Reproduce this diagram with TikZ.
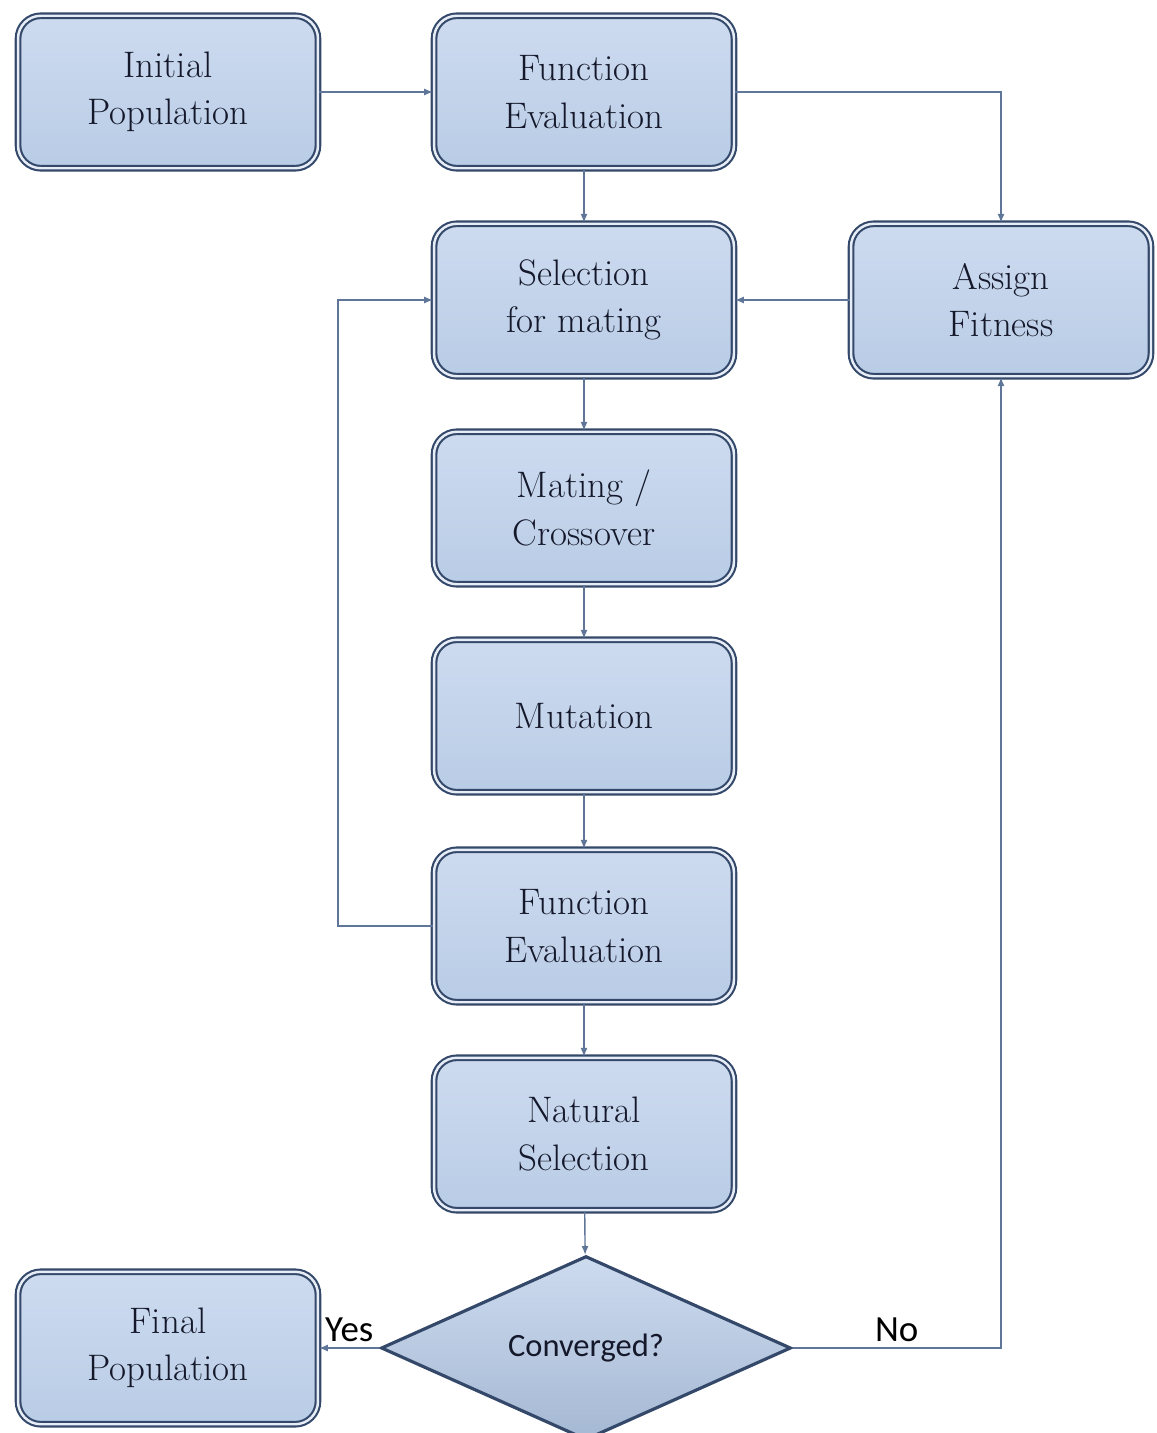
\documentclass[tikz,border=0pt]{standalone}
\usepackage{fontspec}
\usepackage{tikz}
\usepackage{xcolor}
\usetikzlibrary{arrows.meta,shapes.geometric}
\newfontfamily\labelfont{Carlito}
\definecolor{boxedge}{HTML}{34486A}
\definecolor{boxtop}{HTML}{CDDBEF}
\definecolor{boxbot}{HTML}{B9CCE6}
\definecolor{wire}{HTML}{5F7699}
\definecolor{ink}{HTML}{14182A}
\tikzset{
    stepbox/.style={rectangle, rounded corners=13pt, draw=boxedge, line width=1.2pt,
        double=boxtop!50!white, double distance=1.4pt,
        top color=boxtop, bottom color=boxbot,
        minimum width=6.0cm, minimum height=3.05cm, align=center, text=ink,
        font=\fontsize{21}{27}\selectfont},
    testbox/.style={diamond, draw=boxedge, line width=1.8pt,
        top color=boxtop, bottom color=boxbot!85!boxedge,
        minimum width=8.2cm, minimum height=3.4cm, inner sep=0pt, text=ink,
        font=\labelfont\fontsize{18.5}{22}\selectfont},
    wirearrow/.style={draw=wire, line width=0.8pt, -{Latex[length=5pt,width=4pt]}},
    answer/.style={font=\labelfont\fontsize{21}{24}\selectfont, text=black}
}
\begin{document}
\begin{tikzpicture}[x=0.02cm, y=-0.02cm]
            \useasboundingbox (0,0) rectangle (1156,1433);
            \node[stepbox] (init) at (168,92) {Initial\\Population};
            \node[stepbox] (feval) at (584,92) {Function\\Evaluation};
            \node[stepbox] (select) at (584,300) {Selection\\for mating};
            \node[stepbox] (assign) at (1001,300) {Assign\\Fitness};
            \node[stepbox] (mate) at (584,508) {Mating /\\Crossover};
            \node[stepbox] (mutate) at (584,716) {Mutation};
            \node[stepbox] (reeval) at (584,926) {Function\\Evaluation};
            \node[stepbox] (natsel) at (584,1134) {Natural\\Selection};
            \node[testbox] (conv) at (586,1348) {Converged?};
            \node[stepbox] (final) at (168,1348) {Final\\Population};
            \coordinate (loop) at (338,926);
            \draw[wirearrow] (init) -- (feval);
            \draw[wirearrow] (feval.east) -| (assign.north);
            \draw[wirearrow] (feval) -- (select);
            \draw[wirearrow] (assign) -- (select);
            \draw[wirearrow] (select) -- (mate);
            \draw[wirearrow] (mate) -- (mutate);
            \draw[wirearrow] (mutate) -- (reeval);
            \draw[wirearrow] (reeval) -- (natsel);
            \draw[wirearrow] (natsel) -- (conv);
            \draw[wirearrow] (reeval.west) -- (loop) |- (select.west);
            \draw[wirearrow] (conv.west) -- node[answer, above] (yes) {Yes} (final.east);
            \draw[wirearrow] (conv.east) -| node[answer, above, pos=0.25] (no) {No} (assign.south);
        \end{tikzpicture}
\end{document}
